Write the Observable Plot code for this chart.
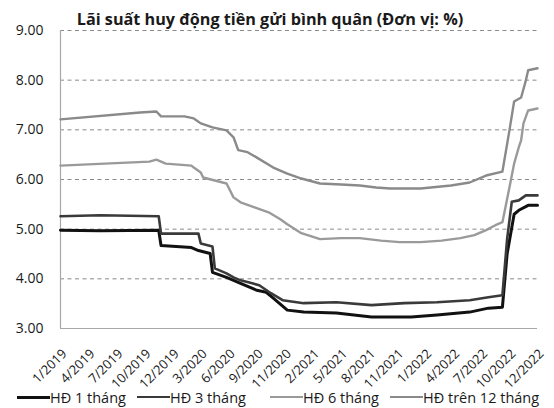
<!DOCTYPE html>
<html>
<head>
<meta charset="utf-8">
<script src="https://cdn.jsdelivr.net/npm/d3@7"></script>
<script src="https://cdn.jsdelivr.net/npm/@observablehq/plot@0.6"></script>
<style>
  body { margin: 0; background: #fff; font-family: "Open Sans", sans-serif; }
  #wrap { position: relative; width: 554px; height: 408px; overflow: hidden; }
  #title { position: absolute; top: 9px; left: 0; width: 540px; text-align: center;
           font-weight: 700; font-size: 16.2px; line-height: 20px; color: #1a1a1a; }
  #chart { position: absolute; top: 0; left: 0; }
  .lg { position: absolute; top: 388px; height: 18px; display: flex; align-items: center;
        font-size: 14.5px; color: #1a1a1a; white-space: nowrap; background: #fff; }
  .sw { width: 33px; display: inline-block; }
</style>
</head>
<body>
<div id="wrap">
  <div id="chart"></div>
  <div id="title">Lãi suất huy động tiền gửi bình quân (Đơn vị: %)</div>
</div>
<script>
// Tick labels (one every 12 weeks)
const tickLabels = ["1/2019","4/2019","7/2019","10/2019","12/2019","3/2020","6/2020","9/2020","11/2020",
                    "2/2021","5/2021","8/2021","11/2021","1/2022","4/2022","7/2022","10/2022","12/2022"];
const yTicks = [3, 4, 5, 6, 7, 8, 9];
const seriesNames = ["HĐ 1 tháng", "HĐ 3 tháng", "HĐ 6 tháng", "HĐ trên 12 tháng"];

// Week index (0 = first week of 1/2019) and average deposit rate (%)
const weeks1m = [0,17,42,43,56,59,64,65,71,77,84,88,91,97,104,118,133,150,161,175,183,189,191,194,196,200,204];
const rates1m = [4.98,4.97,4.98,4.67,4.63,4.57,4.51,4.13,4.03,3.91,3.77,3.73,3.61,3.37,3.33,3.31,3.23,3.23,3.27,3.33,3.41,3.43,4.5,5.3,5.38,5.48,5.48];

const weeks3m = [0,17,42,43,59,60,65,66,71,74,77,82,85,90,95,104,118,133,147,161,175,183,189,191,193,196,199,204];
const rates3m = [5.26,5.28,5.26,4.91,4.91,4.71,4.65,4.21,4.11,4.03,3.97,3.91,3.87,3.71,3.57,3.51,3.53,3.47,3.51,3.53,3.57,3.63,3.67,4.8,5.55,5.58,5.68,5.68];

const weeks6m = [0,38,41,45,56,57,60,61,71,74,77,83,89,94,97,103,111,120,128,137,145,154,163,171,177,182,186,189,192,194,196,197,198,200,204];
const rates6m = [6.28,6.36,6.40,6.32,6.28,6.24,6.14,6.04,5.92,5.64,5.54,5.44,5.34,5.20,5.10,4.92,4.80,4.82,4.82,4.77,4.74,4.74,4.77,4.82,4.88,4.98,5.08,5.14,5.84,6.32,6.65,6.79,7.13,7.39,7.43];

const weeks12m = [0,34,41,43,53,57,60,65,71,74,76,80,84,91,97,103,111,120,128,135,141,154,167,175,182,189,192,194,197,199,200,204];
const rates12m = [7.21,7.35,7.37,7.27,7.27,7.23,7.13,7.05,6.99,6.85,6.59,6.55,6.44,6.24,6.12,6.02,5.92,5.90,5.88,5.84,5.82,5.82,5.88,5.94,6.08,6.16,6.99,7.57,7.65,7.99,8.2,8.24];

const colors = ["#111111", "#3a3a3a", "#9a9a9a", "#8a8a8a"];
const widths = [3, 2.6, 2.4, 2.4];

const seriesData = [[weeks1m, rates1m], [weeks3m, rates3m], [weeks6m, rates6m], [weeks12m, rates12m]];
const rows = seriesData.flatMap(([w, r], s) => w.map((wk, i) => ({series: seriesNames[s], week: wk, rate: r[i]})));
const tickWeeks = tickLabels.map((_, i) => i * 12);

const lineMarks = seriesNames.map((name, s) =>
  Plot.line(rows.filter(d => d.series === name), {
    x: "week", y: "rate", stroke: colors[s], strokeWidth: widths[s],
    strokeLinejoin: "round", strokeLinecap: "round"
  })
);

const chart = Plot.plot({
  width: 554,
  height: 408,
  marginTop: 30,
  marginBottom: 80,
  marginLeft: 60,
  marginRight: 17,
  style: { fontFamily: "Open Sans, sans-serif", background: "transparent", color: "#1a1a1a", overflow: "visible" },
  x: { domain: [0, 204], label: null },
  y: { domain: [3, 9], label: null },
  marks: [
    Plot.ruleY(yTicks.filter(v => v > 3), { stroke: "#8a8a8a", strokeWidth: 1, strokeDasharray: "4,3.5" }),
    Plot.ruleY([3], { stroke: "#a8a8a8", strokeWidth: 1.2 }),
    Plot.ruleX([0], { stroke: "#a8a8a8", strokeWidth: 1.2 }),
    Plot.axisY({ ticks: yTicks, tickFormat: d => d.toFixed(2), tickSize: 0, tickPadding: 17,
                 fontSize: 14, fill: "#1a1a1a", label: null }),
    Plot.axisX({ ticks: tickWeeks, tickFormat: d => tickLabels[Math.round(d / 12)], tickRotate: -45,
                 tickSize: 0, tickPadding: 23, dx: 4, fontSize: 13, fill: "#1a1a1a", label: null }),
    ...lineMarks
  ]
});
document.getElementById("chart").appendChild(chart);

const lefts = [17, 137, 270, 390];
const wrap = document.getElementById("wrap");
seriesNames.forEach((name, s) => {
  const item = document.createElement("div");
  item.className = "lg";
  item.style.left = lefts[s] + "px";
  const sw = document.createElement("span");
  sw.className = "sw";
  sw.style.height = widths[s] + "px";
  sw.style.background = colors[s];
  const tx = document.createElement("span");
  tx.textContent = name;
  item.appendChild(sw);
  item.appendChild(tx);
  wrap.appendChild(item);
});
</script>
</body>
</html>
